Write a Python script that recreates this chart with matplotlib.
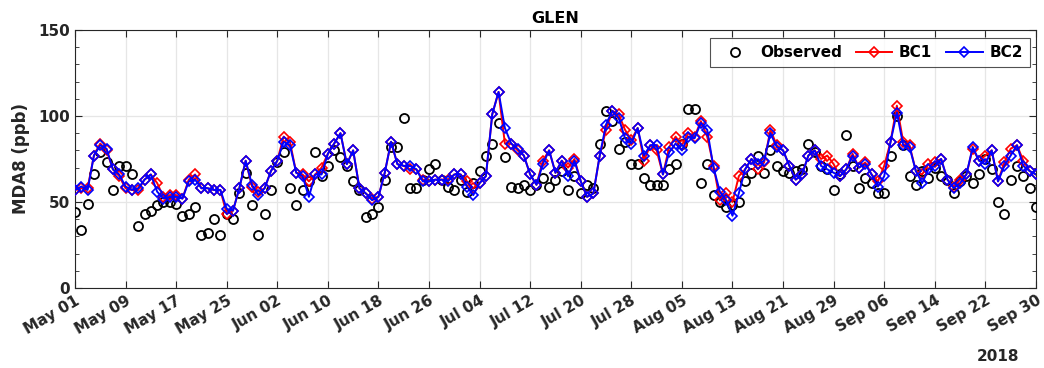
import numpy as np
import pandas as pd
import matplotlib
matplotlib.use("Agg")
import matplotlib.pyplot as plt
import matplotlib.dates as mdates
from matplotlib.ticker import MultipleLocator

# ---------------- data ----------------
dates = pd.date_range("2018-05-01", "2018-09-30", freq="D")

observed = [
    44, 34, 49, 66, 79, 73, 57, 71, 71, 66, 36, 43, 45, 48, 50, 50, 49, 42, 43, 47,
    31, 32, 40, 31, 43, 40, 55, 67, 48, 31, 43, 57, 73, 79, 58, 48, 57, 62, 79, 65,
    71, 80, 76, 71, 62, 57, 41, 43, 47, 63, 82, 82, 99, 58, 58, 63, 69, 72, 63, 59,
    57, 63, 56, 61, 68, 77, 84, 96, 76, 59, 58, 60, 57, 60, 64, 59, 63, 68, 57, 65,
    55, 60, 58, 84, 103, 97, 81, 85, 72, 72, 64, 60, 60, 60, 69, 72, 84, 104, 104, 61,
    72, 54, 50, 47, 48, 50, 62, 67, 77, 67, 80, 71, 68, 67, 68, 69, 84, 79, 71, 69,
    57, 66, 89, 71, 58, 64, 61, 55, 55, 77, 100, 83, 65, 60, 68, 64, 70, 65, 63, 55,
    62, 65, 61, 66, 75, 69, 50, 43, 63, 71, 65, 58, 47,
]

bc1 = [
    57, 58, 58, 77, 84, 80, 69, 65, 58, 57, 57, 63, 66, 61, 53, 54, 54, 52, 63, 66,
    58, 58, 57, 57, 43, 45, 58, 74, 59, 56, 58, 68, 74, 88, 85, 67, 66, 62, 66, 70,
    78, 84, 90, 72, 80, 58, 55, 52, 53, 67, 85, 72, 71, 69, 69, 63, 62, 63, 63, 63,
    66, 66, 62, 58, 61, 65, 101, 114, 84, 84, 80, 77, 66, 60, 74, 80, 67, 74, 70, 75,
    62, 53, 55, 77, 92, 103, 101, 92, 86, 93, 74, 83, 80, 66, 82, 88, 83, 90, 88, 97,
    88, 71, 51, 55, 50, 65, 69, 75, 69, 73, 92, 83, 80, 71, 63, 66, 77, 80, 75, 77,
    72, 65, 69, 78, 70, 73, 66, 62, 71, 85, 106, 85, 83, 68, 66, 72, 73, 75, 63, 59,
    63, 66, 81, 74, 77, 80, 62, 73, 81, 83, 74, 68, 66,
]

bc2 = [
    57, 59, 57, 77, 83, 81, 69, 66, 59, 57, 58, 63, 66, 56, 52, 53, 53, 52, 62, 63,
    58, 58, 57, 57, 46, 45, 58, 74, 60, 54, 58, 68, 74, 85, 83, 67, 65, 53, 66, 66,
    78, 84, 90, 72, 80, 58, 55, 51, 53, 67, 85, 72, 71, 71, 69, 62, 62, 63, 63, 62,
    66, 66, 59, 54, 61, 65, 101, 114, 93, 84, 81, 77, 66, 60, 72, 80, 67, 74, 65, 74,
    62, 53, 55, 77, 95, 103, 99, 87, 84, 93, 77, 83, 83, 66, 79, 84, 80, 88, 87, 96,
    92, 70, 56, 51, 42, 55, 69, 75, 72, 74, 90, 82, 80, 71, 63, 66, 77, 80, 71, 69,
    67, 65, 69, 77, 70, 72, 66, 59, 65, 85, 102, 83, 82, 68, 61, 69, 71, 75, 63, 58,
    61, 66, 82, 74, 72, 80, 62, 71, 77, 83, 71, 68, 66,
]

series_labels = ["Observed", "BC1", "BC2"]
title_text = "GLEN"
ylabel_text = "MDA8 (ppb)"
year_text = "2018"

# ---------------- figure ----------------
plt.rcParams["font.family"] = ["DejaVu Sans"]
plt.rcParams["font.weight"] = "bold"

fig = plt.figure(figsize=(10.44, 3.68), dpi=100)
ax = fig.add_axes([0.0718, 0.2174, 0.9205, 0.7011])

ax.plot(dates, observed, linestyle="none", marker="o", markersize=6.5,
        markerfacecolor="none", markeredgecolor="black", markeredgewidth=1.3,
        label=series_labels[0], zorder=3)
ax.plot(dates, bc1, color="#ff0000", linewidth=1.4, marker="D", markersize=5.3,
        markerfacecolor="none", markeredgecolor="#ff0000", markeredgewidth=1.2,
        label=series_labels[1], zorder=4)
ax.plot(dates, bc2, color="#0000ff", linewidth=1.4, marker="D", markersize=5.3,
        markerfacecolor="none", markeredgecolor="#0000ff", markeredgewidth=1.2,
        label=series_labels[2], zorder=5)

ax.set_xlim(dates[0], dates[-1])
ax.set_ylim(0, 150)

tick_dates = pd.date_range(dates[0], dates[-1], freq="8D")
ax.set_xticks(tick_dates)
ax.xaxis.set_major_formatter(mdates.DateFormatter("%b %d"))
ax.yaxis.set_major_locator(MultipleLocator(50))
ax.yaxis.set_minor_locator(MultipleLocator(10))

ax.tick_params(axis="both", which="both", direction="in", top=True, right=True,
               colors="#262626", labelcolor="#262626")
ax.tick_params(axis="both", which="major", length=5, labelsize=11)
ax.tick_params(axis="y", which="minor", length=3)
for lab in ax.get_xticklabels():
    lab.set_rotation(30)
    lab.set_ha("right")
    lab.set_rotation_mode("anchor")
    lab.set_fontweight("bold")
for lab in ax.get_yticklabels():
    lab.set_fontweight("bold")

ax.grid(True, which="major", color="#e6e6e6", linewidth=0.9)
ax.set_axisbelow(True)
for sp in ax.spines.values():
    sp.set_color("#262626")
    sp.set_linewidth(0.8)

ax.set_title(title_text, fontsize=11.5, fontweight="bold", color="black", pad=5)
ax.set_ylabel(ylabel_text, fontsize=12, fontweight="bold", color="#262626", labelpad=6)

ax.text(0.983, -0.267, year_text, transform=ax.transAxes, ha="right", va="center",
        fontsize=11, fontweight="bold", color="#262626")

leg = ax.legend(loc="upper right", ncol=3, frameon=True, fancybox=False,
                edgecolor="#262626", fontsize=11, handlelength=2.4,
                columnspacing=0.9, handletextpad=0.45, borderpad=0.45,
                borderaxespad=0.0, bbox_to_anchor=(0.9938, 0.969))
leg.get_frame().set_linewidth(0.8)
for t in leg.get_texts():
    t.set_fontweight("bold")

fig.savefig("out.png", dpi=100)
